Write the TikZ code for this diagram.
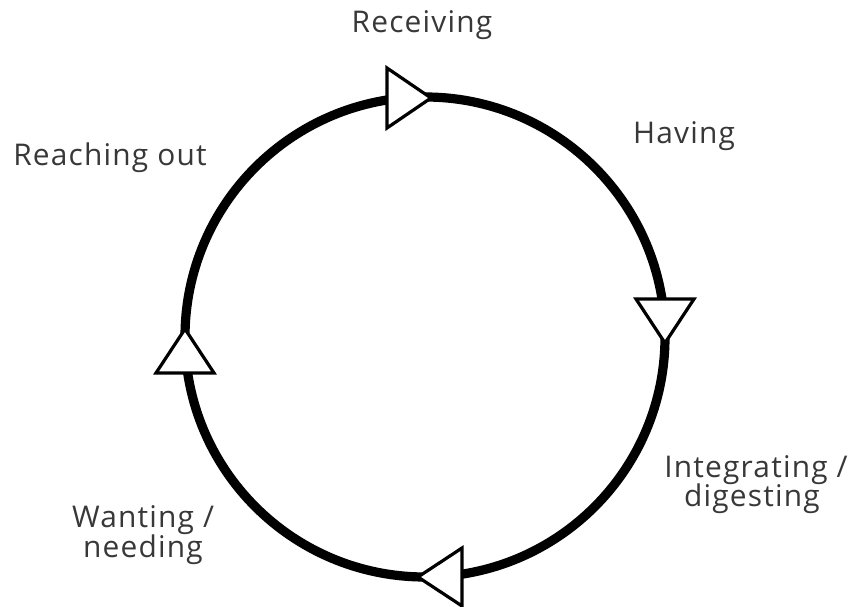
\documentclass[tikz,border=0pt]{standalone}
\usepackage{fontspec}
\setmainfont{Open Sans}[Ligatures={NoCommon},LetterSpace=4]
\begin{document}
\begin{tikzpicture}[x=0.5bp,y=-0.5bp,
  lbl/.style={text=black!78, font=\fontsize{15}{16}\selectfont, inner sep=0pt, align=center},
  ring/.style={line width=4.6bp, black},
  tri/.style={line width=1.6bp, black, fill=white, line join=miter}]
\useasboundingbox[fill=white] (0,0) rectangle (849,607);
\coordinate (c) at (425,337);
\draw[ring] (c) circle[radius=240];
% arrow triangles
\draw[tri] (387,68) -- (431,98) -- (387,128) -- cycle;
\draw[tri] (636,299) -- (694,299) -- (665,343) -- cycle;
\draw[tri] (462,548) -- (418,577) -- (462,606) -- cycle;
\draw[tri] (156,373) -- (214,373) -- (185,329) -- cycle;
% labels
\node[lbl, anchor=base] (recv) at (422,33) {Receiving};
\node[lbl, anchor=base] (reach) at (110,166) {Reaching out};
\node[lbl, anchor=base] (have) at (684,144) {Having};
\node[lbl, anchor=base] (integ) at (756,477) {Integrating /};
\node[lbl, anchor=base] (dig) at (752,507) {digesting};
\node[lbl, anchor=base] (want) at (143,527) {Wanting /};
\node[lbl, anchor=base] (need) at (143,557) {needing};
\end{tikzpicture}
\end{document}
